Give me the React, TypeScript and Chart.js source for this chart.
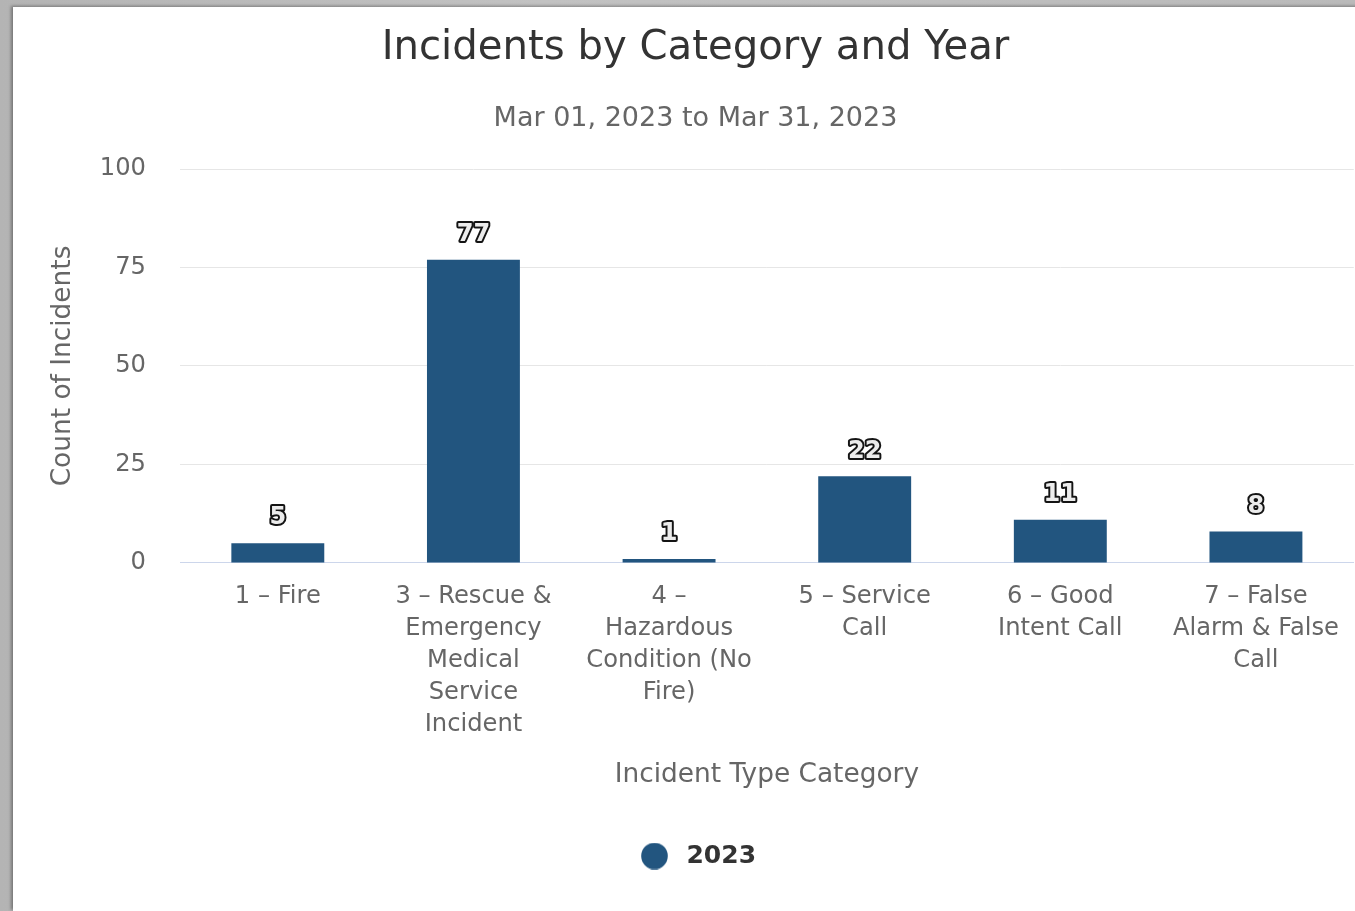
import React, { useEffect, useRef } from "react";
import { Chart, registerables } from "chart.js";

Chart.register(...registerables);

const categories: string[][] = [
  ["1 – Fire"],
  ["3 – Rescue &", "Emergency", "Medical", "Service", "Incident"],
  ["4 –", "Hazardous", "Condition (No", "Fire)"],
  ["5 – Service", "Call"],
  ["6 – Good", "Intent Call"],
  ["7 – False", "Alarm & False", "Call"],
];
const seriesName = "2023";
const values2023: number[] = [5, 77, 1, 22, 11, 8];
const yTicks: number[] = [0, 25, 50, 75, 100];

const FONT = "'DejaVu Sans', Verdana, sans-serif";
const BAR_COLOR = "#22557f";

function makeLegendDot(): HTMLCanvasElement {
  const c = document.createElement("canvas");
  c.width = 27;
  c.height = 27;
  const g = c.getContext("2d")!;
  g.fillStyle = BAR_COLOR;
  g.beginPath();
  g.arc(13.5, 13.5, 13.3, 0, Math.PI * 2);
  g.fill();
  return c;
}

const dataLabelPlugin = {
  id: "dataLabels",
  afterDatasetsDraw(chart: any) {
    const ctx = chart.ctx;
    const meta = chart.getDatasetMeta(0);
    const ds = chart.data.datasets[0];
    ctx.save();
    ctx.font = `bold 24px ${FONT}`;
    ctx.textAlign = "center";
    ctx.textBaseline = "middle";
    ctx.lineJoin = "round";
    meta.data.forEach((bar: any, i: number) => {
      const txt = String(ds.data[i]);
      const y = bar.y - 25;
      ctx.lineWidth = 4;
      ctx.strokeStyle = "#141414";
      ctx.strokeText(txt, bar.x, y);
      ctx.fillStyle = "#ececec";
      ctx.fillText(txt, bar.x, y);
    });
    ctx.restore();
  },
};

export default function App() {
  const ref = useRef<HTMLCanvasElement | null>(null);

  useEffect(() => {
    document.body.style.margin = "0";
    if (!ref.current) return;
    const dot = makeLegendDot();
    const chart = new Chart(ref.current, {
      type: "bar",
      data: {
        labels: categories,
        datasets: [
          {
            label: seriesName,
            data: values2023,
            backgroundColor: BAR_COLOR,
            borderWidth: 0,
            barPercentage: 0.95,
            categoryPercentage: 0.5,
          },
        ],
      },
      options: {
        responsive: false,
        animation: false,
        devicePixelRatio: 1,
        layout: { padding: { left: 0, right: 0, top: 0, bottom: 32.5 } },
        plugins: {
          title: {
            display: true,
            text: "Incidents by Category and Year",
            color: "#333333",
            font: { family: FONT, size: 40.2, weight: "normal", lineHeight: 1.2 },
            padding: { top: 17.3, bottom: 0 },
          },
          subtitle: {
            display: true,
            text: "Mar 01, 2023 to Mar 31, 2023",
            color: "#666666",
            font: { family: FONT, size: 27, weight: "normal", lineHeight: 1.2 },
            padding: { top: 30.5, bottom: 33.6 },
          },
          legend: {
            display: true,
            position: "bottom",
            labels: {
              usePointStyle: true,
              pointStyle: dot as any,
              boxHeight: 19,
              pointStyleWidth: 39,
              color: "#333333",
              font: { family: FONT, size: 25, weight: "bold" },
              padding: 10,
            },
          },
          tooltip: { enabled: false },
        },
        scales: {
          x: {
            grid: { display: false, drawTicks: false },
            border: { display: true, color: "#ccd6eb", width: 1 },
            ticks: {
              autoSkip: false,
              maxRotation: 0,
              minRotation: 0,
              padding: 18,
              color: "#666666",
              font: { family: FONT, size: 24.2, lineHeight: 1.322 },
            },
            title: {
              display: true,
              text: "Incident Type Category",
              color: "#666666",
              font: { family: FONT, size: 26.4, lineHeight: 1.2 },
              padding: { top: 0.2, bottom: 42.7 },
            },
          },
          y: {
            min: 0,
            max: 100,
            afterBuildTicks(scale: any) {
              scale.ticks = yTicks.map((v) => ({ value: v }));
            },
            afterFit(scale: any) {
              scale.width = 146;
            },
            grid: { color: "#e6e6e6", lineWidth: 1, drawTicks: false },
            border: { display: false },
            ticks: {
              padding: 34,
              color: "#666666",
              font: { family: FONT, size: 24.2 },
            },
            title: {
              display: true,
              text: "Count of Incidents",
              color: "#666666",
              font: { family: FONT, size: 26.4, lineHeight: 1.2 },
              padding: { top: 13.5, bottom: 0 },
            },
          },
        },
      },
      plugins: [dataLabelPlugin],
    });
    return () => chart.destroy();
  }, []);

  return (
    <div
      style={{
        position: "fixed",
        left: 0,
        top: 0,
        width: 1355,
        height: 911,
        overflow: "hidden",
        background: "linear-gradient(90deg, #b4b4b4, #c2c2c2 40%, #bababa)",
      }}
    >
      <div
        style={{
          position: "absolute",
          left: 13,
          top: 7,
          width: 1380,
          height: 904,
          background: "#ffffff",
          boxShadow: "-2px -1px 3px rgba(0,0,0,0.35)",
        }}
      >
        <canvas
          ref={ref}
          width={1323}
          height={904}
          style={{ display: "block", position: "absolute", left: 21, top: 0 }}
        />
      </div>
    </div>
  );
}
